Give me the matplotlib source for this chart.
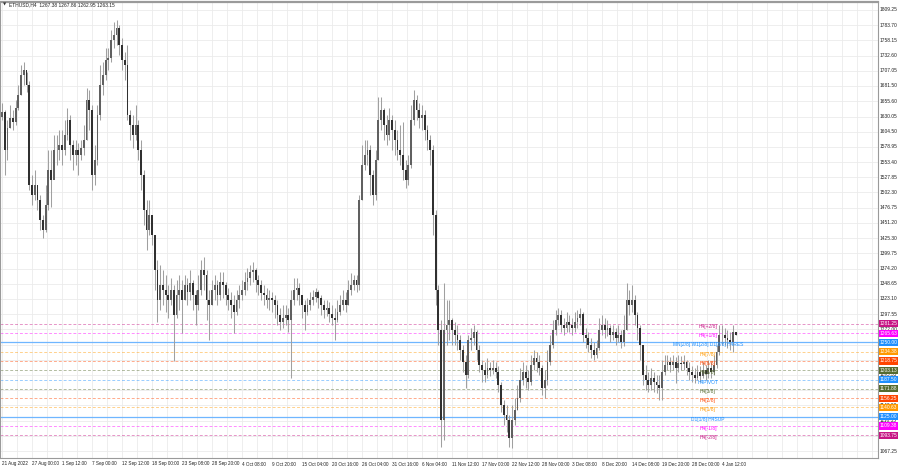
import matplotlib
matplotlib.use("Agg")
import matplotlib.pyplot as plt
from matplotlib.patches import Rectangle
from matplotlib.transforms import blended_transform_factory
import numpy as np

# ---------------- data (12h candles, ETHUSD) ----------------
first_open = 1630
close = [1638,1574,1611,1628,1621,1644,1666,1700,1708,1683,1515,
         1498,1515,1490,1456,1439,1481,1540,1523,1574,1574,1582,
         1574,1599,1624,1582,1565,1574,1565,1577,1590,1658,1641,
         1532,1557,1633,1683,1700,1725,1728,1759,1767,1779,1750,
         1725,1717,1633,1616,1599,1616,1574,1532,1473,1439,1464,
         1431,1372,1321,1347,1338,1330,1321,1338,1296,1330,1338,
         1321,1347,1335,1350,1330,1313,1338,1372,1363,1321,1313,
         1338,1347,1330,1352,1347,1330,1321,1313,1301,1321,1330,
         1338,1352,1358,1368,1372,1355,1347,1333,1330,1321,1325,
         1321,1313,1296,1284,1291,1296,1288,1321,1338,1342,1330,
         1313,1301,1313,1321,1326,1335,1325,1313,1305,1308,1298,
         1291,1288,1301,1313,1321,1313,1338,1347,1355,1347,1490,
         1548,1565,1574,1532,1498,1557,1624,1641,1616,1599,1624,
         1607,1590,1574,1565,1540,1523,1548,1624,1658,1641,1628,
         1633,1607,1590,1574,1464,1338,1271,1119,1271,1279,1288,
         1271,1262,1254,1237,1217,1195,1254,1257,1267,1237,1212,
         1204,1195,1207,1204,1207,1200,1178,1145,1128,1119,1089,
         1119,1136,1156,1187,1200,1190,1183,1212,1224,1217,1207,
         1173,1187,1217,1246,1271,1288,1296,1279,1274,1284,1279,
         1274,1284,1291,1298,1262,1257,1246,1237,1229,1241,1271,
         1279,1271,1274,1262,1267,1257,1262,1251,1271,1321,1313,
         1321,1296,1274,1246,1195,1187,1178,1190,1183,1178,1173,
         1200,1212,1217,1212,1217,1207,1215,1214,1217,1207,1200,
         1195,1190,1200,1193,1204,1197,1207,1200,1212,1234,1262,
         1262,1257,1254,1251,1267.38,1263.15]
high = [1653,1641,1624,1649,1641,1658,1683,1717,1722,1705,1690,
        1532,1540,1515,1498,1464,1515,1574,1574,1599,1599,1607,
        1607,1624,1644,1633,1590,1590,1585,1590,1616,1678,1675,
        1649,1582,1649,1717,1722,1745,1745,1776,1789,1792,1784,
        1762,1739,1750,1641,1633,1649,1624,1590,1540,1490,1490,
        1464,1431,1389,1380,1372,1363,1347,1358,1347,1355,1363,
        1355,1363,1358,1372,1355,1338,1363,1389,1394,1372,1338,
        1355,1363,1355,1368,1368,1352,1342,1335,1330,1338,1347,
        1355,1368,1375,1380,1385,1375,1363,1355,1347,1342,1338,
        1335,1330,1321,1308,1313,1313,1308,1338,1358,1358,1350,
        1330,1321,1325,1335,1338,1342,1338,1330,1321,1321,1318,
        1313,1308,1321,1330,1338,1335,1355,1367,1363,1363,1498,
        1582,1590,1590,1582,1540,1574,1663,1663,1644,1633,1644,
        1633,1624,1607,1616,1621,1557,1565,1649,1675,1666,1653,
        1649,1641,1616,1599,1582,1473,1347,1288,1350,1321,1321,
        1291,1284,1279,1262,1246,1229,1262,1274,1279,1271,1246,
        1220,1217,1224,1217,1220,1217,1210,1183,1153,1145,1128,
        1145,1156,1178,1207,1217,1212,1204,1229,1237,1234,1229,
        1212,1204,1237,1262,1288,1305,1308,1305,1291,1301,1296,
        1291,1301,1305,1308,1301,1274,1267,1257,1251,1254,1291,
        1296,1291,1288,1279,1279,1274,1279,1271,1296,1350,1338,
        1347,1330,1301,1279,1246,1212,1200,1207,1200,1195,1195,
        1220,1229,1229,1225,1229,1225,1229,1227,1229,1220,1217,
        1210,1207,1212,1210,1217,1212,1220,1217,1229,1246,1279,
        1279,1274,1271,1267,1279,1267.86]
low = [1624,1532,1557,1611,1607,1616,1641,1666,1683,1671,1506,
       1481,1490,1473,1439,1426,1436,1473,1478,1532,1548,1557,
       1548,1565,1590,1557,1540,1548,1532,1557,1565,1590,1607,
       1506,1515,1548,1624,1666,1692,1708,1722,1745,1750,1734,
       1708,1692,1624,1590,1577,1590,1557,1506,1448,1406,1431,
       1414,1338,1284,1305,1313,1301,1291,1313,1219,1291,1305,
       1266,1321,1313,1321,1305,1279,1305,1330,1338,1288,1254,
       1313,1321,1313,1321,1325,1313,1305,1291,1266,1296,1308,
       1321,1330,1338,1347,1352,1335,1330,1321,1313,1308,1305,
       1301,1291,1279,1271,1274,1279,1267,1190,1313,1321,1313,
       1291,1271,1296,1305,1313,1318,1308,1296,1291,1294,1284,
       1279,1254,1284,1296,1305,1301,1313,1330,1338,1335,1338,
       1490,1540,1548,1498,1481,1490,1557,1607,1590,1582,1590,
       1574,1565,1557,1548,1523,1510,1515,1543,1616,1624,1611,
       1607,1590,1574,1548,1431,1313,1246,1074,1086,1246,1254,
       1246,1246,1237,1220,1200,1173,1190,1237,1246,1220,1200,
       1183,1183,1190,1193,1197,1190,1167,1133,1111,1099,1074,
       1072,1111,1136,1150,1178,1173,1170,1178,1204,1200,1195,
       1161,1156,1178,1212,1241,1262,1279,1267,1262,1267,1267,
       1262,1267,1274,1279,1251,1241,1234,1224,1220,1224,1237,
       1262,1257,1261,1251,1254,1246,1251,1241,1244,1271,1296,
       1301,1279,1254,1220,1178,1170,1167,1170,1167,1165,1153,
       1153,1195,1204,1200,1204,1182,1200,1204,1204,1195,1187,
       1183,1182,1187,1183,1190,1187,1190,1190,1195,1207,1229,
       1246,1246,1241,1237,1234,1262.95]

date_labels = ["21 Aug 2022", "27 Aug 00:00", "1 Sep 12:00", "7 Sep 00:00",
               "12 Sep 12:00", "18 Sep 00:00", "23 Sep 08:00", "28 Sep 20:00",
               "4 Oct 08:00", "9 Oct 20:00", "15 Oct 04:00", "20 Oct 16:00",
               "26 Oct 04:00", "31 Oct 16:00", "6 Nov 04:00", "11 Nov 12:00",
               "17 Nov 00:00", "22 Nov 12:00", "28 Nov 00:00", "3 Dec 08:00",
               "8 Dec 20:00", "14 Dec 08:00", "19 Dec 20:00", "28 Dec 00:00",
               "4 Jan 12:00"]

price_ticks = [1067.25, 1092.80, 1118.35, 1143.90, 1169.45, 1195.35, 1220.90,
               1246.45, 1272.00, 1297.55, 1323.10, 1348.65, 1374.20, 1399.75,
               1425.30, 1451.20, 1476.75, 1502.30, 1527.85, 1553.40, 1578.95,
               1604.50, 1630.05, 1655.60, 1681.50, 1707.05, 1732.60, 1758.15,
               1783.70, 1809.25]

mm_levels = [1281.25, 1265.63, 1250.00, 1234.38, 1218.75, 1203.13, 1187.50,
             1171.88, 1156.25, 1140.63, 1125.00, 1109.38, 1093.75]
mm_names = ["H4[+2/8]", "H4[+1/8]", "MN[2/8] W1[2/8] D1[8/8] H4RES", "H4[7/8]",
            "H4[6/8]", "H4[5/8]", "H4PIVOT", "H4[3/8]", "H4[2/8]", "H4[1/8]",
            "D1[1/8] H4SUP", "H4[-1/8]", "H4[-2/8]"]
mm_colors = ["#c71585", "#ff00ff", "#1e90ff", "#ff9900", "#ff4500", "#556b2f",
             "#1e90ff", "#556b2f", "#ff4500", "#ff9900", "#1e90ff", "#ff00ff",
             "#c71585"]
mm_solid = [False, False, True, False, False, False, False, False, False, False,
            True, False, False]

header = "ETHUSD,H4  1267.38 1267.86 1262.95 1263.15"

# ---------------- figure ----------------
plt.rcParams['font.family'] = ['Liberation Sans', 'DejaVu Sans']
FS = 3.5

W, H = 900, 468
fig = plt.figure(figsize=(W / 100, H / 100), dpi=100)
fig.patch.set_facecolor('white')
ax_l, ax_r, ax_t, ax_b = 0, 878, 2, 458
ax = fig.add_axes([ax_l / W, (H - ax_b) / H, (ax_r - ax_l) / W, (ax_b - ax_t) / H])

px_per_bar = 30 / 11.0
x0 = 2
ax.set_xlim((0 - x0) / px_per_bar, (ax_r - x0) / px_per_bar)
ax.set_ylim(1055.5, 1822.7)

# grid
for k in range(0, 60):
    ax.axvline(k * 5.5, color='#ebebeb', lw=0.6, zorder=0)
for t in price_ticks:
    ax.axhline(t, color='#ebebeb', lw=0.6, zorder=0)

# murrey math lines
for lvl, col, solid in zip(mm_levels, mm_colors, mm_solid):
    if solid:
        ax.axhline(lvl, color='#6fb6ff', lw=0.9, zorder=1)
    else:
        ax.axhline(lvl, color=col, lw=0.7, alpha=0.45, ls=(0, (3, 2)), zorder=1)

# candles
n = len(close)
idx = np.arange(n)
c = np.array(close, dtype=float)
o = np.concatenate([[first_open], c[:-1]])
h = np.array(high, dtype=float)
l = np.array(low, dtype=float)
ax.vlines(idx, l, h, color='#a0a0a0', lw=0.75, zorder=2)
up = c >= o
ax.bar(idx[up], (c - o)[up], bottom=o[up], width=0.66, color='#606060',
       edgecolor='none', zorder=3)
ax.bar(idx[~up], (c - o)[~up], bottom=o[~up], width=0.66, color='#303030',
       edgecolor='none', zorder=3)

# murrey text labels
xt = (708 - x0) / px_per_bar
for lvl, col, name in zip(mm_levels, mm_colors, mm_names):
    ax.text(xt, lvl - 4.2, name, color=col, fontsize=FS, ha='center',
            va='center', zorder=4)

# axes style
ax.set_xticks([])
ax.set_yticks([])
for s in ['left', 'right', 'bottom']:
    ax.spines[s].set_color('#9a9a9a')
    ax.spines[s].set_linewidth(0.8)
ax.spines['top'].set_color('#9a9a9a')
ax.spines['top'].set_linewidth(1.6)

# price axis labels
tr = blended_transform_factory(ax.transAxes, ax.transData)
for t in price_ticks:
    ax.text(1 + 2 / 878, t, f"{t:.2f}", transform=tr, fontsize=FS,
            ha='left', va='center', color='#222222', clip_on=False)
bw = 19 / 878
for lvl, col in zip(mm_levels, mm_colors):
    ax.add_patch(Rectangle((1 + 1 / 878, lvl - 6.0), bw, 12.0, transform=tr,
                           facecolor=col, edgecolor='none', clip_on=False,
                           zorder=5))
    ax.text(1 + 1 / 878 + bw / 2, lvl, f"{lvl:.2f}", transform=tr,
            fontsize=FS, ha='center', va='center', color='white',
            clip_on=False, zorder=6)

# date labels
trx = blended_transform_factory(ax.transData, ax.transAxes)
for k, lab in enumerate(date_labels):
    ax.text(k * 11, -3.5 / 456, lab, transform=trx, fontsize=3.35, ha='left',
            va='top', color='#222222', clip_on=False)

# header
fig.text(3 / W, 1 - 5 / H, "\u25bc", fontsize=3.0, va='center', ha='left',
         color='#333333', family='DejaVu Sans')
fig.text(9 / W, 1 - 5 / H, header, fontsize=FS, va='center', ha='left',
         color='#222222')

fig.savefig("out.png", dpi=100, facecolor='white')
